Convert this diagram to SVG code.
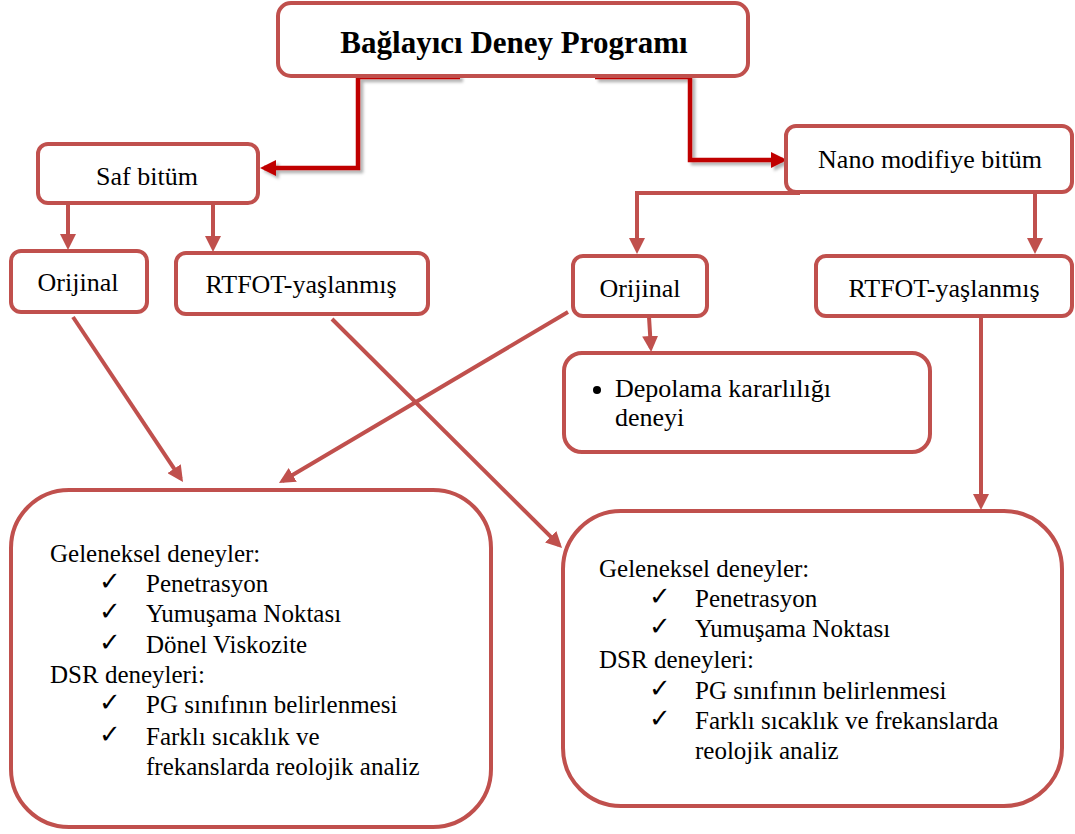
<svg xmlns="http://www.w3.org/2000/svg" width="1075" height="834" viewBox="0 0 1075 834">
<style>
  .box { fill: #fff; stroke: #C0504D; stroke-width: 4; }
  .lbl { font-family: "Liberation Serif", "Times New Roman", serif; font-size: 26px; fill: #000; }
  .lst { font-family: "Liberation Serif", "Times New Roman", serif; font-size: 25px; fill: #000; }
  .chk { font-family: "DejaVu Sans", sans-serif; font-size: 26px; font-weight: bold; fill: #000; }
  .title { font-family: "Liberation Serif", "Times New Roman", serif; font-size: 31px; font-weight: bold; fill: #000; }
  .conn { fill: none; stroke: #C0504D; stroke-width: 4; marker-end: url(#ah); }
  .main { fill: none; stroke: #C00000; stroke-width: 4.5; marker-end: url(#ahr); filter: url(#sh); }
</style>
<defs>
  <marker id="ah" markerUnits="userSpaceOnUse" markerWidth="16" markerHeight="16" refX="12" refY="8" orient="auto">
    <path d="M0,0 L16,8 L0,16 z" fill="#C0504D"/>
  </marker>
  <marker id="ahr" markerUnits="userSpaceOnUse" markerWidth="16" markerHeight="16" refX="12" refY="8" orient="auto">
    <path d="M0,0 L16,8 L0,16 z" fill="#C00000"/>
  </marker>
  <filter id="sh" x="-20%" y="-20%" width="140%" height="140%">
    <feDropShadow dx="3" dy="3" stdDeviation="1.5" flood-color="#000" flood-opacity="0.3"/>
  </filter>
</defs>
<rect width="1075" height="834" fill="#fff"/>

<g id="connectors">
  <path class="main" d="M460,77 H358 V168 H264"/>
  <path class="main" d="M595,77 H690 V160 H783"/>
  <path class="conn" d="M68,203 V246"/>
  <path class="conn" d="M213,203 V248"/>
  <path class="conn" d="M800,193 H637 V250"/>
  <path class="conn" d="M1035,193 V250"/>
  <path class="conn" d="M649,317 L650.9,348"/>
  <path class="conn" d="M981,317 V506"/>
  <path class="conn" d="M73,317 L180.8,478.7"/>
  <path class="conn" d="M332,319 L559.2,545.2"/>
  <path class="conn" d="M568,312 L282.4,481"/>
</g>

<g id="node-title">
  <rect class="box" x="278" y="3" width="470" height="73" rx="13"/>
  <text class="title" x="514" y="53" text-anchor="middle">Bağlayıcı Deney Programı</text>
</g>
<g id="node-saf">
  <rect class="box" x="38" y="144" width="220" height="59" rx="10"/>
  <text class="lbl" x="147" y="185" text-anchor="middle">Saf bitüm</text>
</g>
<g id="node-nano">
  <rect class="box" x="786" y="126" width="286" height="66" rx="10"/>
  <text class="lbl" x="930" y="168" text-anchor="middle">Nano modifiye bitüm</text>
</g>
<g id="node-orijinal-1">
  <rect class="box" x="11" y="251" width="136" height="61" rx="10"/>
  <text class="lbl" x="78" y="291" text-anchor="middle">Orijinal</text>
</g>
<g id="node-rtfot-1">
  <rect class="box" x="176" y="253" width="252" height="61" rx="10"/>
  <text class="lbl" x="301" y="293" text-anchor="middle">RTFOT-yaşlanmış</text>
</g>
<g id="node-orijinal-2">
  <rect class="box" x="573" y="256" width="134" height="60" rx="10"/>
  <text class="lbl" x="640" y="297" text-anchor="middle">Orijinal</text>
</g>
<g id="node-rtfot-2">
  <rect class="box" x="816" y="256" width="256" height="60" rx="10"/>
  <text class="lbl" x="944" y="297" text-anchor="middle">RTFOT-yaşlanmış</text>
</g>
<g id="node-depolama">
  <rect class="box" x="564" y="353" width="366" height="99" rx="18"/>
  <circle cx="597" cy="390" r="4" fill="#000"/>
  <text class="lbl" x="615" y="397">Depolama kararlılığı</text>
  <text class="lbl" x="615" y="426">deneyi</text>
</g>
<g id="node-tests-left">
  <rect class="box" x="11" y="490" width="480" height="337" rx="58"/>
  <text class="lst" x="50" y="562">Geleneksel deneyler:</text>
  <text class="chk" x="99" y="590">✓</text><text class="lst" x="146" y="592">Penetrasyon</text>
  <text class="chk" x="99" y="620">✓</text><text class="lst" x="146" y="622">Yumuşama Noktası</text>
  <text class="chk" x="99" y="651">✓</text><text class="lst" x="146" y="653">Dönel Viskozite</text>
  <text class="lst" x="50" y="683">DSR deneyleri:</text>
  <text class="chk" x="99" y="711">✓</text><text class="lst" x="146" y="713">PG sınıfının belirlenmesi</text>
  <text class="chk" x="99" y="743">✓</text><text class="lst" x="146" y="745">Farklı sıcaklık ve</text>
  <text class="lst" x="146" y="775">frekanslarda reolojik analiz</text>
</g>
<g id="node-tests-right">
  <rect class="box" x="563" y="511" width="499" height="295" rx="58"/>
  <text class="lst" x="599" y="577">Geleneksel deneyler:</text>
  <text class="chk" x="649" y="605">✓</text><text class="lst" x="695" y="607">Penetrasyon</text>
  <text class="chk" x="649" y="635">✓</text><text class="lst" x="695" y="637">Yumuşama Noktası</text>
  <text class="lst" x="599" y="668">DSR deneyleri:</text>
  <text class="chk" x="649" y="697">✓</text><text class="lst" x="695" y="699">PG sınıfının belirlenmesi</text>
  <text class="chk" x="649" y="727">✓</text><text class="lst" x="695" y="729">Farklı sıcaklık ve frekanslarda</text>
  <text class="lst" x="695" y="759">reolojik analiz</text>
</g>
</svg>
